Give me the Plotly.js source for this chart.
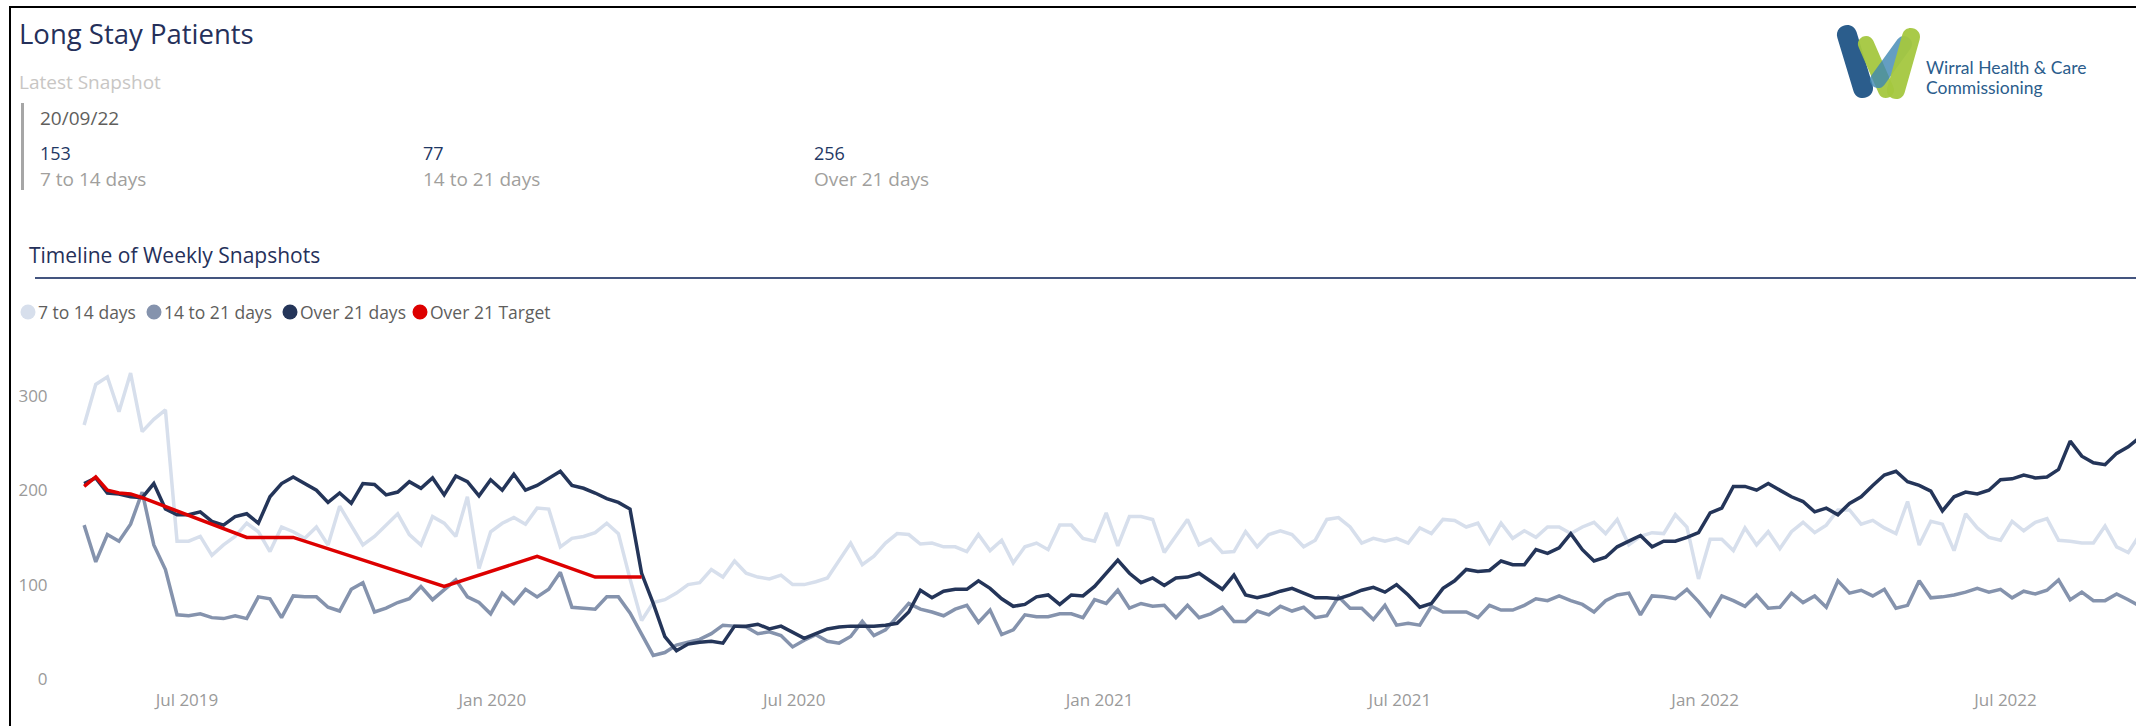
<!DOCTYPE html>
<html>
<head>
<meta charset="utf-8">
<script src="https://cdn.plot.ly/plotly-3.0.1.min.js"></script>
<style>
  html, body { margin: 0; padding: 0; background: #ffffff; overflow: hidden; }
  #chart { width: 2136px; height: 726px; }
</style>
</head>
<body>
<div id="chart"></div>
<script>
// ---------------- DATA ----------------
const firstSnapshot = '2019-04-30';   // weekly snapshots (Tuesdays) to 20/09/22
const weekCount = 178;

const days7to14 = [269,312,320,283,324,262,275,285,146,146,151,131,142,151,165,156,135,161,156,149,
  161,142,183,163,142,151,163,175,153,142,172,165,151,193,117,156,165,171,164,181,
  180,140,149,151,155,165,154,106,62,81,84,91,100,102,116,108,125,112,108,106,
  110,100,100,103,107,126,144,121,130,144,154,153,143,144,140,140,135,153,136,147,
  123,140,144,137,163,163,149,146,176,141,172,172,169,134,152,169,142,148,134,135,
  156,140,153,157,153,140,147,169,171,161,144,149,146,149,144,160,154,169,168,161,
  165,144,165,149,157,150,161,161,154,161,166,154,169,142,151,155,154,174,161,106,
  148,148,136,160,142,156,138,156,166,155,163,179,179,164,168,160,154,188,142,167,
  164,136,175,160,150,147,167,157,166,170,147,146,144,144,162,140,134,153];

const days14to21 = [163,124,153,146,164,198,142,116,68,67,69,65,64,67,64,87,85,65,88,87,
  87,76,72,95,102,71,75,81,85,98,84,95,105,87,81,69,91,80,95,87,
  95,113,76,75,74,87,87,70,48,25,28,36,39,42,48,57,56,55,48,50,
  46,34,41,47,40,38,45,61,46,52,66,80,74,71,67,74,78,60,73,47,
  52,68,66,66,69,69,65,84,80,94,75,80,77,78,65,78,65,69,76,61,
  61,72,68,77,72,76,65,67,87,75,75,63,78,57,59,57,77,71,71,71,
  65,78,73,73,78,85,83,88,83,79,71,83,89,91,68,88,87,85,95,82,
  67,88,83,77,89,75,76,91,81,88,76,104,91,94,88,95,75,78,104,86,
  87,89,92,96,92,95,86,93,90,94,105,84,92,83,83,90,84,77];

const over21Days = [207,213,197,196,193,192,207,180,174,174,177,167,163,172,175,165,193,207,214,207,
  200,187,197,186,207,206,195,198,209,202,213,195,215,209,194,211,200,217,200,205,
  212,220,205,202,197,191,187,180,112,80,45,30,37,39,40,38,56,56,58,53,
  56,49,43,48,53,55,56,56,56,57,59,71,94,86,93,95,95,104,96,85,
  77,79,87,89,79,89,88,98,112,126,112,102,107,99,107,108,112,103,95,110,
  89,86,89,93,96,91,86,86,85,89,94,97,92,100,89,76,80,96,104,116,
  114,115,125,121,121,137,133,139,154,137,125,129,140,146,152,140,146,146,150,155,
  176,181,204,204,200,207,200,193,188,177,181,174,186,193,205,216,220,209,205,199,
  178,193,198,196,200,211,212,216,213,214,222,252,236,229,227,239,246,256];

const targetDates = ['2019-04-30','2019-05-07','2019-05-14','2019-05-21','2019-05-28','2019-06-04',
  '2019-08-06','2019-09-03','2019-12-03','2020-01-28','2020-03-03','2020-03-31'];
const over21Target = [204,214,200,197,196,192,150,150,98,130,108,108];

const seriesNames = ['7 to 14 days','14 to 21 days','Over 21 days','Over 21 Target'];
const seriesColors = ['#d7dfec','#8593ad','#243559','#dd0000'];

const latestDate = '20/09/22';
const latestValues = [153, 77, 256];
const latestLabels = ['7 to 14 days','14 to 21 days','Over 21 days'];

// weekly date axis
const snapshotDates = [];
{
  const d0 = new Date(firstSnapshot + 'T00:00:00Z');
  for (let i = 0; i < weekCount; i++) {
    const d = new Date(d0.getTime() + i * 7 * 86400000);
    snapshotDates.push(d.toISOString().slice(0, 10));
  }
}

// ---------------- LAYOUT HELPERS ----------------
const W = 2136, H = 726;
const M = {l: 60, r: 0, t: 358, b: 47};
const PW = W - M.l - M.r, PH = H - M.t - M.b;
const fx = px => (px - M.l) / PW;
const fy = py => (H - M.b - py) / PH;
const FONT = 'Open Sans, Noto Sans, sans-serif';

const annotations = [];
const shapes = [];
function txt(text, x, y, size, color, opts) {
  annotations.push(Object.assign({
    text: text, x: fx(x), y: fy(y), xref: 'paper', yref: 'paper',
    xanchor: 'left', yanchor: 'middle', showarrow: false,
    font: {family: FONT, size: size, color: color}
  }, opts || {}));
}
function rect(x0, y0, x1, y1, color) {
  shapes.push({type: 'rect', xref: 'paper', yref: 'paper', x0: fx(x0), x1: fx(x1),
    y0: fy(y1), y1: fy(y0), fillcolor: color, line: {width: 0}, layer: 'above'});
}
function circle(cx, cy, r, color) {
  shapes.push({type: 'circle', xref: 'paper', yref: 'paper', x0: fx(cx - r), x1: fx(cx + r),
    y0: fy(cy + r), y1: fy(cy - r), fillcolor: color, line: {width: 0}, layer: 'above'});
}
function pill(x1, y1, x2, y2, r, color, op) {
  const dx = x2 - x1, dy = y2 - y1, L = Math.hypot(dx, dy);
  const ux = dx / L, uy = dy / L, nx = -uy, ny = ux, k = r * 4 / 3;
  const P = (x, y) => fx(x).toFixed(6) + ',' + fy(y).toFixed(6);
  const path = 'M' + P(x1 + nx * r, y1 + ny * r) +
    ' L' + P(x2 + nx * r, y2 + ny * r) +
    ' C' + P(x2 + nx * r + ux * k, y2 + ny * r + uy * k) + ' ' + P(x2 - nx * r + ux * k, y2 - ny * r + uy * k) + ' ' + P(x2 - nx * r, y2 - ny * r) +
    ' L' + P(x1 - nx * r, y1 - ny * r) +
    ' C' + P(x1 - nx * r - ux * k, y1 - ny * r - uy * k) + ' ' + P(x1 + nx * r - ux * k, y1 + ny * r - uy * k) + ' ' + P(x1 + nx * r, y1 + ny * r) + ' Z';
  shapes.push({type: 'path', xref: 'paper', yref: 'paper', path: path,
    fillcolor: color, opacity: op || 1, line: {width: 0}, layer: 'above'});
}

// frame
rect(9, 6, 2136, 8, '#000000');
rect(9, 6, 11, 726, '#000000');

// header texts
txt('Long Stay Patients', 17, 33, 27.5, '#25305a');
txt('Latest Snapshot', 17, 82, 19, '#c8c6c4');
rect(21, 103, 24, 190, '#a6a6a6');
txt(latestDate, 38, 118, 19, '#605e5c');
const cardX = [38, 421, 812];
for (let i = 0; i < 3; i++) {
  txt(String(latestValues[i]), cardX[i], 153, 18, '#1f3864');
  txt(latestLabels[i], cardX[i], 179, 19, '#a19f9d');
}

// logo
pill(1847, 35, 1863, 88, 10, '#2b5d8c');
pill(1866, 44, 1886, 90, 8, '#a4c73f', 0.95);
pill(1904, 44, 1878, 80, 8, '#3d86b3', 0.8);
pill(1911, 37, 1896, 90, 9, '#a4c73f', 0.95);
const logoFont = {family: 'Lato, Open Sans, sans-serif', size: 17.5, color: '#2b5d8c'};
txt('Wirral Health &amp; Care', 1924, 67, 17.5, '#2b5d8c', {font: logoFont});
txt('Commissioning', 1924, 88, 17.5, '#2b5d8c', {font: logoFont});

// section title + rule
txt('Timeline of Weekly Snapshots', 27, 255, 21, '#25305a');
rect(35, 277, 2136, 279, '#44557f');

// legend
const legCx = [28, 154, 290, 420];
for (let i = 0; i < 4; i++) {
  circle(legCx[i], 312, 7.5, seriesColors[i]);
  txt(seriesNames[i], legCx[i] + 8, 312, 17.5, '#605e5c');
}

// ---------------- TRACES ----------------
const seriesValues = [days7to14, days14to21, over21Days];
const traces = seriesValues.map((vals, i) => ({
  type: 'scatter', mode: 'lines', name: seriesNames[i],
  x: snapshotDates, y: vals,
  line: {color: seriesColors[i], width: 3.5, shape: 'linear'},
  hoverinfo: 'x+y+name'
}));
traces.push({
  type: 'scatter', mode: 'lines', name: seriesNames[3],
  x: targetDates, y: over21Target,
  line: {color: seriesColors[3], width: 3.5, shape: 'linear'}
});

// x range: Jul 2019 at px 187, 1.6592 px/day
const pxPerDay = 1.6592;
const jul2019 = Date.UTC(2019, 6, 1);
const xStart = new Date(jul2019 - (187 - M.l) / pxPerDay * 86400000);
const xEnd = new Date(jul2019 + (W - M.r - 187) / pxPerDay * 86400000);

const layout = {
  width: W, height: H,
  margin: M,
  paper_bgcolor: '#ffffff', plot_bgcolor: '#ffffff',
  showlegend: false,
  font: {family: FONT},
  xaxis: {
    type: 'date', range: [xStart.toISOString(), xEnd.toISOString()],
    tick0: '2019-07-01', dtick: 'M6', tickformat: '%b %Y',
    showgrid: false, zeroline: false, showline: false,
    ticks: 'outside', ticklen: 6, tickcolor: 'rgba(0,0,0,0)',
    tickfont: {family: FONT, size: 17, color: '#9a9a9a'}
  },
  yaxis: {
    range: [0, 340], tickvals: [0, 100, 200, 300],
    showgrid: false, zeroline: false, showline: false,
    ticks: 'outside', ticklen: 8, tickcolor: 'rgba(0,0,0,0)',
    tickfont: {family: FONT, size: 17, color: '#9a9a9a'}
  },
  annotations: annotations,
  shapes: shapes
};

Plotly.newPlot('chart', traces, layout, {displayModeBar: false, staticPlot: true});
</script>
</body>
</html>
